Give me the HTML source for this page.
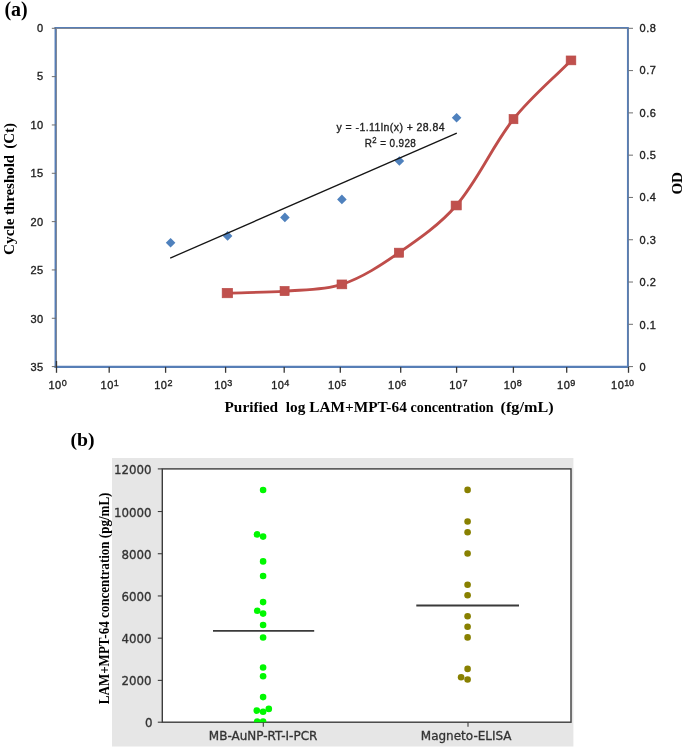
<!DOCTYPE html>
<html lang="en">
<head>
<meta charset="utf-8">
<title>Figure: calibration curves and concentration scatter</title>
<style>
html,body{margin:0;padding:0;background:#fff;}
body{width:685px;height:750px;overflow:hidden;}
svg{display:block;}
.tb{font-family:"Liberation Serif","Times New Roman",serif;font-weight:bold;fill:#000;}
.cal{font-family:"Liberation Sans",Arial,sans-serif;font-size:11px;fill:#1e1e1e;stroke:#1e1e1e;stroke-width:0.35px;letter-spacing:0.45px;}
.dv{font-family:"DejaVu Sans","Liberation Sans",sans-serif;font-size:12px;fill:#333;stroke:#333;stroke-width:0.3px;}
</style>
</head>
<body>
<svg width="685" height="750" viewBox="0 0 685 750">
<rect x="0" y="0" width="685" height="750" fill="#ffffff"/>
<text x="4.4" y="16.0" class="tb" font-size="20">(a)</text>
<text x="70.4" y="446.1" class="tb" font-size="19.7">(b)</text>
<rect x="56.5" y="28.5" width="572" height="338" fill="none" stroke="#8e8e8e" stroke-width="1"/>
<line x1="54.6" y1="27.6" x2="628.6" y2="27.6" stroke="#577eb6" stroke-width="1.3"/>
<line x1="55.4" y1="27.0" x2="55.4" y2="367.9" stroke="#577eb6" stroke-width="1.7"/>
<line x1="627.8" y1="27.0" x2="627.8" y2="367.9" stroke="#577eb6" stroke-width="1.7"/>
<line x1="54.6" y1="366.9" x2="629" y2="366.9" stroke="#577eb6" stroke-width="2.2"/>
<line x1="51.8" y1="28.30" x2="56" y2="28.30" stroke="#6e6e6e" stroke-width="1"/>
<text x="43.6" y="31.85" class="cal" text-anchor="end">0</text>
<line x1="51.8" y1="76.63" x2="56" y2="76.63" stroke="#6e6e6e" stroke-width="1"/>
<text x="43.6" y="80.29" class="cal" text-anchor="end">5</text>
<line x1="51.8" y1="124.96" x2="56" y2="124.96" stroke="#6e6e6e" stroke-width="1"/>
<text x="43.6" y="128.74" class="cal" text-anchor="end">10</text>
<line x1="51.8" y1="173.29" x2="56" y2="173.29" stroke="#6e6e6e" stroke-width="1"/>
<text x="43.6" y="177.18" class="cal" text-anchor="end">15</text>
<line x1="51.8" y1="221.61" x2="56" y2="221.61" stroke="#6e6e6e" stroke-width="1"/>
<text x="43.6" y="225.62" class="cal" text-anchor="end">20</text>
<line x1="51.8" y1="269.94" x2="56" y2="269.94" stroke="#6e6e6e" stroke-width="1"/>
<text x="43.6" y="274.06" class="cal" text-anchor="end">25</text>
<line x1="51.8" y1="318.27" x2="56" y2="318.27" stroke="#6e6e6e" stroke-width="1"/>
<text x="43.6" y="322.51" class="cal" text-anchor="end">30</text>
<line x1="51.8" y1="366.60" x2="56" y2="366.60" stroke="#6e6e6e" stroke-width="1"/>
<text x="43.6" y="370.95" class="cal" text-anchor="end">35</text>
<line x1="628.5" y1="28.30" x2="633" y2="28.30" stroke="#6e6e6e" stroke-width="1"/>
<text x="639.6" y="31.85" class="cal">0.8</text>
<line x1="628.5" y1="70.59" x2="633" y2="70.59" stroke="#6e6e6e" stroke-width="1"/>
<text x="639.6" y="74.25" class="cal">0.7</text>
<line x1="628.5" y1="112.88" x2="633" y2="112.88" stroke="#6e6e6e" stroke-width="1"/>
<text x="639.6" y="116.65" class="cal">0.6</text>
<line x1="628.5" y1="155.16" x2="633" y2="155.16" stroke="#6e6e6e" stroke-width="1"/>
<text x="639.6" y="159.05" class="cal">0.5</text>
<line x1="628.5" y1="197.45" x2="633" y2="197.45" stroke="#6e6e6e" stroke-width="1"/>
<text x="639.6" y="201.45" class="cal">0.4</text>
<line x1="628.5" y1="239.74" x2="633" y2="239.74" stroke="#6e6e6e" stroke-width="1"/>
<text x="639.6" y="243.85" class="cal">0.3</text>
<line x1="628.5" y1="282.03" x2="633" y2="282.03" stroke="#6e6e6e" stroke-width="1"/>
<text x="639.6" y="286.25" class="cal">0.2</text>
<line x1="628.5" y1="324.31" x2="633" y2="324.31" stroke="#6e6e6e" stroke-width="1"/>
<text x="639.6" y="328.65" class="cal">0.1</text>
<line x1="628.5" y1="366.60" x2="633" y2="366.60" stroke="#6e6e6e" stroke-width="1"/>
<text x="639.6" y="371.05" class="cal">0</text>
<line x1="56.5" y1="361" x2="56.5" y2="372.8" stroke="#383838" stroke-width="1.3"/>
<text x="48.5" y="389" class="cal">10<tspan dy="-3.4" font-size="9" letter-spacing="-0.3">0</tspan></text>
<line x1="109.2" y1="366.9" x2="109.2" y2="372.8" stroke="#383838" stroke-width="1.3"/>
<text x="100.6" y="389" class="cal">10<tspan dy="-3.4" font-size="9" letter-spacing="-0.3">1</tspan></text>
<line x1="165.6" y1="366.9" x2="165.6" y2="372.8" stroke="#383838" stroke-width="1.3"/>
<text x="154.3" y="389" class="cal">10<tspan dy="-3.4" font-size="9" letter-spacing="-0.3">2</tspan></text>
<line x1="225.6" y1="366.9" x2="225.6" y2="372.8" stroke="#383838" stroke-width="1.3"/>
<text x="214.2" y="389" class="cal">10<tspan dy="-3.4" font-size="9" letter-spacing="-0.3">3</tspan></text>
<line x1="284.2" y1="366.9" x2="284.2" y2="372.8" stroke="#383838" stroke-width="1.3"/>
<text x="271.2" y="389" class="cal">10<tspan dy="-3.4" font-size="9" letter-spacing="-0.3">4</tspan></text>
<line x1="340.3" y1="366.9" x2="340.3" y2="372.8" stroke="#383838" stroke-width="1.3"/>
<text x="328.0" y="389" class="cal">10<tspan dy="-3.4" font-size="9" letter-spacing="-0.3">5</tspan></text>
<line x1="400.7" y1="366.9" x2="400.7" y2="372.8" stroke="#383838" stroke-width="1.3"/>
<text x="388.1" y="389" class="cal">10<tspan dy="-3.4" font-size="9" letter-spacing="-0.3">6</tspan></text>
<line x1="456.6" y1="366.9" x2="456.6" y2="372.8" stroke="#383838" stroke-width="1.3"/>
<text x="449.3" y="389" class="cal">10<tspan dy="-3.4" font-size="9" letter-spacing="-0.3">7</tspan></text>
<line x1="513.4" y1="366.9" x2="513.4" y2="372.8" stroke="#383838" stroke-width="1.3"/>
<text x="503.7" y="389" class="cal">10<tspan dy="-3.4" font-size="9" letter-spacing="-0.3">8</tspan></text>
<line x1="566.7" y1="366.9" x2="566.7" y2="372.8" stroke="#383838" stroke-width="1.3"/>
<text x="557.1" y="389" class="cal">10<tspan dy="-3.4" font-size="9" letter-spacing="-0.3">9</tspan></text>
<line x1="628.5" y1="366.9" x2="628.5" y2="372.8" stroke="#383838" stroke-width="1.3"/>
<text x="611.1" y="389" class="cal">10<tspan dy="-3.4" font-size="9" letter-spacing="-0.3">10</tspan></text>
<text transform="translate(14.3,254.9) rotate(-90)" class="tb" font-size="15.3" style="white-space:pre"><tspan x="0" textLength="36.3" lengthAdjust="spacingAndGlyphs">Cycle</tspan> <tspan x="39.8" textLength="60.2" lengthAdjust="spacingAndGlyphs">threshold</tspan> <tspan x="106.1" textLength="25.7" lengthAdjust="spacingAndGlyphs">(Ct)</tspan></text>
<text transform="translate(681.9,194.6) rotate(-90)" class="tb" font-size="15.5" textLength="22.6" lengthAdjust="spacingAndGlyphs">OD</text>
<text x="224.5" y="411.8" class="tb" font-size="15" style="white-space:pre"><tspan textLength="182.3" lengthAdjust="spacingAndGlyphs">Purified  log LAM+MPT-64</tspan> <tspan x="410.6" textLength="83" lengthAdjust="spacingAndGlyphs">concentration</tspan> <tspan x="500.6" textLength="53" lengthAdjust="spacingAndGlyphs">(fg/mL)</tspan></text>
<text x="336.6" y="131.0" class="cal" font-size="11.3" textLength="108.4" lengthAdjust="spacingAndGlyphs">y = -1.11ln(x) + 28.84</text>
<text x="364.7" y="146.6" class="cal" font-size="11.3" textLength="51.6" lengthAdjust="spacingAndGlyphs">R<tspan dy="-4" font-size="8.6">2</tspan><tspan dy="4"> = 0.928</tspan></text>
<path d="M227.4,293.1 C246.5,292.4 265.6,292.5 284.6,291.1 C303.8,289.6 323.7,290.5 341.9,284.4 C362.5,277.5 381.1,265.1 399.0,252.7 C419.3,238.7 440.1,224.3 456.2,205.5 C478.7,179.3 492.1,146.2 513.5,119.1 C530.5,97.6 551.8,80.0 571.0,60.4" fill="none" stroke="#bf4d4a" stroke-width="2.85" stroke-linecap="butt" stroke-linejoin="round"/>
<rect x="222.15" y="288.30" width="10.5" height="9.5" fill="#c0504d" stroke="#b94a47" stroke-width="0.6"/>
<rect x="280.05" y="286.40" width="9.1" height="9.3" fill="#c0504d" stroke="#b94a47" stroke-width="0.6"/>
<rect x="337.00" y="279.95" width="9.8" height="8.9" fill="#c0504d" stroke="#b94a47" stroke-width="0.6"/>
<rect x="394.30" y="248.15" width="9.4" height="9.1" fill="#c0504d" stroke="#b94a47" stroke-width="0.6"/>
<rect x="451.10" y="201.05" width="10.2" height="8.9" fill="#c0504d" stroke="#b94a47" stroke-width="0.6"/>
<rect x="509.05" y="114.45" width="8.9" height="9.3" fill="#c0504d" stroke="#b94a47" stroke-width="0.6"/>
<rect x="566.15" y="55.95" width="9.7" height="8.9" fill="#c0504d" stroke="#b94a47" stroke-width="0.6"/>
<path d="M165.8,242.8 L170.6,238.0 L175.4,242.8 L170.6,247.6 Z" fill="#4f81bd"/>
<path d="M222.8,235.9 L227.6,231.1 L232.4,235.9 L227.6,240.7 Z" fill="#4f81bd"/>
<path d="M280.1,217.4 L284.9,212.6 L289.7,217.4 L284.9,222.2 Z" fill="#4f81bd"/>
<path d="M337.1,199.4 L341.9,194.6 L346.7,199.4 L341.9,204.2 Z" fill="#4f81bd"/>
<path d="M394.6,161.0 L399.4,156.2 L404.2,161.0 L399.4,165.8 Z" fill="#4f81bd"/>
<path d="M451.8,117.7 L456.6,112.9 L461.4,117.7 L456.6,122.5 Z" fill="#4f81bd"/>
<line x1="170.2" y1="258.1" x2="456.8" y2="133.1" stroke="#151515" stroke-width="1.3"/>
<rect x="112.0" y="458.0" width="461.4" height="288.5" fill="#e6e6e6"/>
<rect x="162.3" y="468.9" width="408.7" height="253.3" fill="#ffffff" stroke="#3c3c3c" stroke-width="1.4"/>
<line x1="157.8" y1="722.20" x2="162.3" y2="722.20" stroke="#3c3c3c" stroke-width="1.1"/>
<text transform="translate(152.6,727.30) scale(0.985,1)" class="dv" text-anchor="end">0</text>
<line x1="157.8" y1="680.38" x2="162.3" y2="680.38" stroke="#3c3c3c" stroke-width="1.1"/>
<text transform="translate(151.6,685.48) scale(0.985,1)" class="dv" text-anchor="end">2000</text>
<line x1="157.8" y1="638.17" x2="162.3" y2="638.17" stroke="#3c3c3c" stroke-width="1.1"/>
<text transform="translate(151.6,643.27) scale(0.985,1)" class="dv" text-anchor="end">4000</text>
<line x1="157.8" y1="595.95" x2="162.3" y2="595.95" stroke="#3c3c3c" stroke-width="1.1"/>
<text transform="translate(151.6,601.05) scale(0.985,1)" class="dv" text-anchor="end">6000</text>
<line x1="157.8" y1="553.73" x2="162.3" y2="553.73" stroke="#3c3c3c" stroke-width="1.1"/>
<text transform="translate(151.6,558.83) scale(0.985,1)" class="dv" text-anchor="end">8000</text>
<line x1="157.8" y1="511.52" x2="162.3" y2="511.52" stroke="#3c3c3c" stroke-width="1.1"/>
<text transform="translate(151.6,516.62) scale(0.985,1)" class="dv" text-anchor="end">10000</text>
<line x1="157.8" y1="468.90" x2="162.3" y2="468.90" stroke="#3c3c3c" stroke-width="1.1"/>
<text transform="translate(151.6,474.00) scale(0.985,1)" class="dv" text-anchor="end">12000</text>
<line x1="263.3" y1="722.2" x2="263.3" y2="726.7" stroke="#3c3c3c" stroke-width="1.1"/>
<text x="263.1" y="740.2" class="dv" font-size="12.2" text-anchor="middle">MB-AuNP-RT-I-PCR</text>
<line x1="468.0" y1="722.2" x2="468.0" y2="726.7" stroke="#3c3c3c" stroke-width="1.1"/>
<text x="466.2" y="740.2" class="dv" font-size="12.2" text-anchor="middle">Magneto-ELISA</text>
<text transform="translate(109.0,704.2) rotate(-90)" class="tb" font-size="13.7" textLength="211.6" lengthAdjust="spacingAndGlyphs">LAM+MPT-64 concentration (pg/mL)</text>
<clipPath id="cp"><rect x="162.3" y="468.9" width="408.7" height="253.3"/></clipPath>
<g clip-path="url(#cp)">
<circle cx="263.1" cy="490" r="3.3" fill="#00f800"/>
<circle cx="263.1" cy="536.6" r="3.3" fill="#00f800"/>
<circle cx="257" cy="534.4" r="3.3" fill="#00f800"/>
<circle cx="263.1" cy="561.4" r="3.3" fill="#00f800"/>
<circle cx="263.1" cy="576" r="3.3" fill="#00f800"/>
<circle cx="263.1" cy="602.1" r="3.3" fill="#00f800"/>
<circle cx="257.2" cy="610.8" r="3.3" fill="#00f800"/>
<circle cx="263.1" cy="613.6" r="3.3" fill="#00f800"/>
<circle cx="263.1" cy="625" r="3.3" fill="#00f800"/>
<circle cx="263.1" cy="637.5" r="3.3" fill="#00f800"/>
<circle cx="263.1" cy="667.5" r="3.3" fill="#00f800"/>
<circle cx="263.1" cy="676.3" r="3.3" fill="#00f800"/>
<circle cx="263.1" cy="697.1" r="3.3" fill="#00f800"/>
<circle cx="268.8" cy="708.9" r="3.3" fill="#00f800"/>
<circle cx="256.8" cy="710.6" r="3.3" fill="#00f800"/>
<circle cx="263.1" cy="711.7" r="3.3" fill="#00f800"/>
<circle cx="263.1" cy="721.6" r="3.3" fill="#00f800"/>
<circle cx="257.1" cy="721.6" r="3.3" fill="#00f800"/>
<circle cx="467.6" cy="489.9" r="3.3" fill="#888000"/>
<circle cx="467.6" cy="521.5" r="3.3" fill="#888000"/>
<circle cx="467.6" cy="532.2" r="3.3" fill="#888000"/>
<circle cx="467.6" cy="553.5" r="3.3" fill="#888000"/>
<circle cx="467.6" cy="584.8" r="3.3" fill="#888000"/>
<circle cx="467.6" cy="595.3" r="3.3" fill="#888000"/>
<circle cx="467.6" cy="616.2" r="3.3" fill="#888000"/>
<circle cx="467.6" cy="626.8" r="3.3" fill="#888000"/>
<circle cx="467.6" cy="637.4" r="3.3" fill="#888000"/>
<circle cx="467.6" cy="668.9" r="3.3" fill="#888000"/>
<circle cx="467.6" cy="679.5" r="3.3" fill="#888000"/>
<circle cx="461.1" cy="677.3" r="3.3" fill="#888000"/>
</g>
<line x1="213" y1="630.9" x2="314.2" y2="630.9" stroke="#3a3a3a" stroke-width="1.9"/>
<line x1="416.3" y1="605.5" x2="519" y2="605.5" stroke="#3a3a3a" stroke-width="1.9"/>
</svg>
</body>
</html>
